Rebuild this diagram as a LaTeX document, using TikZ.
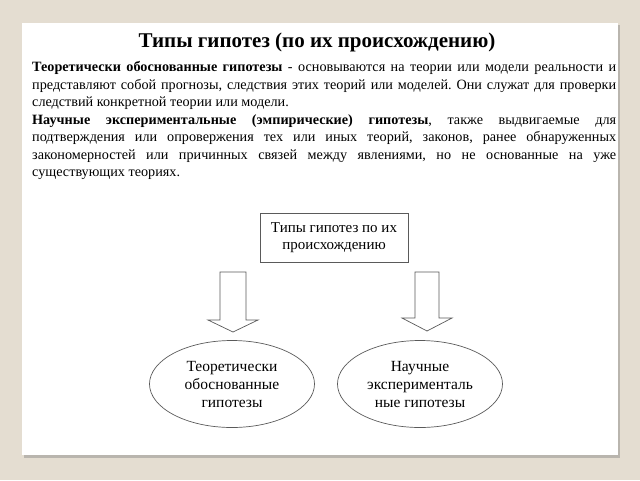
\documentclass[tikz,border=0pt]{standalone}
\usepackage{fontspec}
\setmainfont{Liberation Serif}
\usetikzlibrary{shapes.geometric,positioning}
\definecolor{slidebg}{HTML}{E4DDD1}
\definecolor{slideshadow}{HTML}{B9B5AE}
\definecolor{linegray}{HTML}{5A5A5A}

\begin{document}
\begin{tikzpicture}[x=1pt,y=-1pt,
  typebox/.style={draw=linegray,line width=0.7pt,minimum width=148,minimum height=49,align=center,font=\fontsize{15}{17.5}\selectfont,inner sep=2pt},
  typeell/.style={ellipse,draw=linegray,line width=0.7pt,minimum width=165,minimum height=87,align=center,font=\fontsize{15.5}{18}\selectfont,inner sep=0pt},
  blockarr/.style={draw=linegray,line width=0.7pt,fill=white,line join=miter}]
\fill[slidebg] (0,0) rectangle (640,480);
\useasboundingbox (0,0) rectangle (640,480);
\fill[slideshadow] (24,25) rectangle (620,458);
\fill[white] (22,23) rectangle (618,455);

\node[font=\bfseries\fontsize{21}{24}\selectfont] (title) at (317,42) {Типы гипотез (по их происхождению)};
\node[anchor=north west,text width=584pt,align=justify,inner sep=0pt,font=\fontsize{14.2}{17.5}\selectfont] (descr) at (32,61.5) {\parindent=0pt\frenchspacing
\textbf{Теоретически обоснованные гипотезы} - основываются на теории или модели реальности и\linebreak
представляют собой прогнозы, следствия этих теорий или моделей. Они служат для проверки\linebreak
следствий конкретной теории или модели.\par
\textbf{Научные экспериментальные (эмпирические) гипотезы}, также выдвигаемые для\linebreak
подтверждения или опровержения тех или иных теорий, законов, ранее обнаруженных\linebreak
закономерностей или причинных связей между явлениями, но не основанные на уже\linebreak
существующих теориях.};

\node[typebox] (origin) at (334,237.5) {Типы гипотез по их\\происхождению};
\node[typeell] (theor) at (232,384) {Теоретически\\обоснованные\\гипотезы};
\node[typeell] (empir) at (420,384) {Научные\\эксперименталь\\ные гипотезы};

% block arrows
\coordinate (la) at (233,272);
\coordinate (ra) at (427,272);
\draw[blockarr] (la) ++(-13,0) -- ++(26,0) -- ++(0,48) -- ++(12,0) -- ++(-25,12) -- ++(-25,-12) -- ++(12,0) -- cycle;
\draw[blockarr] (ra) ++(-12,0) -- ++(24,0) -- ++(0,46) -- ++(13,0) -- ++(-25,13) -- ++(-25,-13) -- ++(13,0) -- cycle;
\end{tikzpicture}
\end{document}
